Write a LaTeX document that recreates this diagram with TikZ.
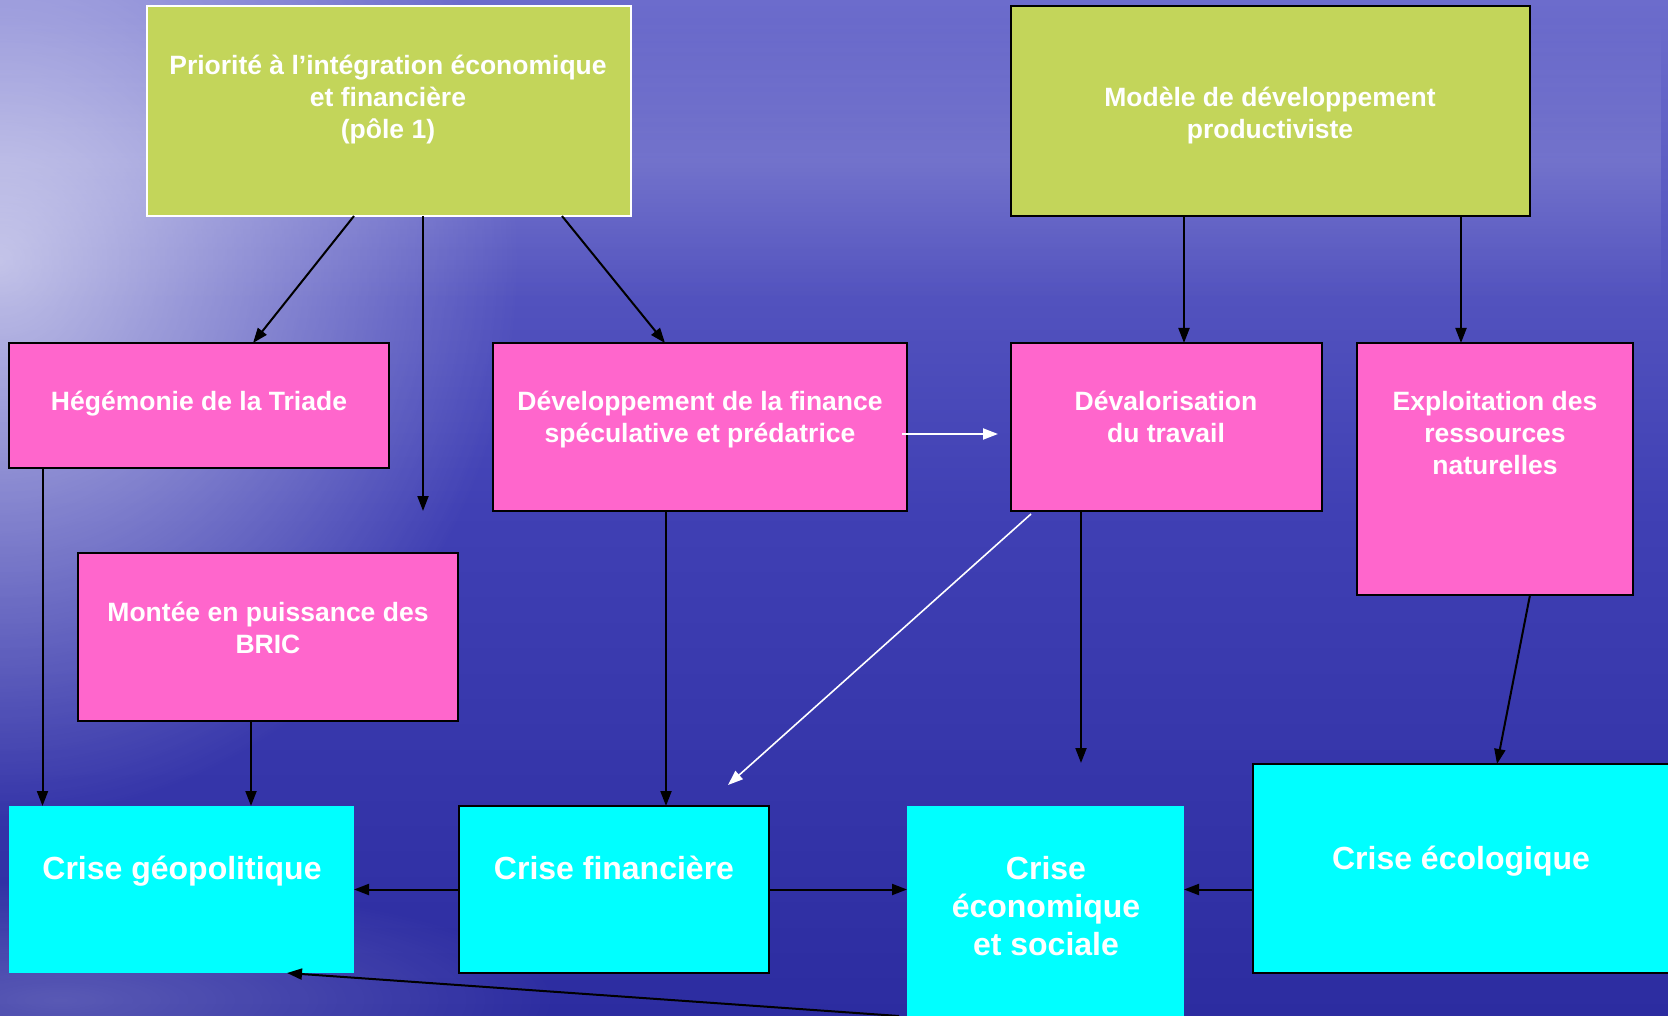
\documentclass[tikz,border=0pt]{standalone}
\usepackage{fontspec}
\setmainfont{Liberation Sans}
\usetikzlibrary{arrows.meta,fadings}
\definecolor{gbox}{RGB}{195,213,90}
\definecolor{pbox}{RGB}{255,102,204}
\definecolor{cbox}{RGB}{0,255,255}
\definecolor{bgtop}{RGB}{108,108,204}
\definecolor{bgmid}{RGB}{64,64,180}
\definecolor{bgbot}{RGB}{44,44,160}
\tikzfading[name=radfade, inner color=transparent!15, outer color=transparent!100]
\tikzfading[name=bandfade, top color=transparent!100, bottom color=transparent!100, middle color=transparent!75]
\begin{document}
\begin{tikzpicture}[x=1pt,y=-1pt,
  box/.style={anchor=north west, inner sep=0pt, outer sep=0pt, line width=2pt},
  greenbox/.style={box, fill=gbox, draw=black},
  pinkbox/.style={box, fill=pbox, draw=black},
  cyanbox/.style={box, fill=cbox},
  ptxt/.style={text=white, align=center, font=\bfseries\fontsize{26.5}{32}\selectfont},
  ctxt/.style={text=white, align=center, font=\bfseries\fontsize{32}{38}\selectfont},
  arr/.style={-{Triangle[length=15pt,width=11pt]}, line width=2pt, draw=black},
  warr/.style={arr, draw=white}]
\useasboundingbox (0,0) rectangle (1668,1016);
\clip (0,0) rectangle (1668,1016);
% background
\shade[top color=bgtop, bottom color=bgbot, middle color=bgmid] (0,0) rectangle (1668,1016);
\fill[white, path fading=bandfade, opacity=0.5] (0,20) rectangle (1668,300);
\fill[white, path fading=radfade, opacity=0.75] (0,260) ellipse [x radius=520, y radius=560];
\fill[white, path fading=radfade, opacity=0.25] (60,1000) ellipse [x radius=500, y radius=120];

% boxes
\node[greenbox, draw=white, minimum width=484pt, minimum height=210pt] (g1) at (147,6) {};
\node[greenbox, minimum width=519pt, minimum height=210pt] (g2) at (1011,6) {};
\node[pinkbox, minimum width=380.5pt, minimum height=125pt] (heg) at (8.5,343) {};
\node[pinkbox, minimum width=414pt, minimum height=168pt] (dev) at (493,343) {};
\node[pinkbox, minimum width=311pt, minimum height=168pt] (dval) at (1011,343) {};
\node[pinkbox, minimum width=276pt, minimum height=252pt] (expl) at (1357,343) {};
\node[pinkbox, minimum width=380pt, minimum height=168pt] (mont) at (78,553) {};
\node[cyanbox, minimum width=345.5pt, minimum height=167pt] (geo) at (8.5,806) {};
\node[cyanbox, draw=black, minimum width=310.5pt, minimum height=167pt] (fin) at (458.5,806) {};
\node[cyanbox, minimum width=277pt, minimum height=215pt] (eco) at (907,806) {};
\node[cyanbox, draw=black, minimum width=420pt, minimum height=209pt] (ecol) at (1253,764) {};

% texts
\node[ptxt] (g1t) at (388,100) {Priorité à l’intégration économique\\et financière\\(pôle 1)};
\node[ptxt] (g2t) at (1270,116) {Modèle de développement\\productiviste};
\node[ptxt] (hegt) at (199,404) {Hégémonie de la Triade};
\node[ptxt] (devt) at (700,420) {Développement de la finance\\spéculative et prédatrice};
\node[ptxt] (dvalt) at (1166,417) {Dévalorisation\\du travail};
\node[ptxt] (explt) at (1495,433) {Exploitation des\\ressources\\naturelles};
\node[ptxt] (montt) at (268,628) {Montée en puissance des\\BRIC};
\node[ctxt] (geot) at (182,871) {Crise géopolitique};
\node[ctxt] (fint) at (614,868) {Crise financière};
\node[ctxt] (ecot) at (1046,906) {Crise\\économique\\et sociale};
\node[ctxt] (ecolt) at (1461,861) {Crise écologique};

% free ends
\coordinate (c1) at (423,511);
\coordinate (c2) at (728,785);
\coordinate (c3) at (1081,763);

% connectors
\draw[arr] ([xshift=207pt]g1.south west) -- ([xshift=244.5pt]heg.north west);
\draw[arr] ([xshift=276pt]g1.south west) -- (c1);
\draw[arr] ([xshift=415pt]g1.south west) -- ([xshift=172pt]dev.north west);
\draw[arr] ([xshift=173pt]g2.south west) -- ([xshift=173pt]dval.north west);
\draw[arr] ([xshift=450pt]g2.south west) -- ([xshift=104pt]expl.north west);
\draw[warr] ([xshift=-5pt,yshift=-7pt]dev.east) -- ([xshift=-13pt,yshift=-7pt]dval.west);
\draw[arr] ([xshift=34pt]heg.south west) -- ([xshift=34pt]geo.north west);
\draw[arr] ([xshift=173pt]mont.south west) -- ([xshift=242.5pt]geo.north west);
\draw[arr] ([xshift=173pt]dev.south west) -- ([xshift=207.5pt]fin.north west);
\draw[warr, line width=1.6pt] ([xshift=20pt,yshift=-3pt]dval.south west) -- (c2);
\draw[arr] ([xshift=70pt]dval.south west) -- (c3);
\draw[arr] ([xshift=173pt]expl.south west) -- ([xshift=244pt]ecol.north west);
\draw[arr] (fin.west) -- (geo.east);
\draw[arr] (fin.east) -- (eco.west |- fin.east);
\draw[arr] (ecol.west |- fin.east) -- (eco.east |- fin.east);
\draw[arr] ([xshift=-8pt,yshift=5pt]eco.south west) -- ([xshift=278.5pt]geo.south west);
\end{tikzpicture}
\end{document}
